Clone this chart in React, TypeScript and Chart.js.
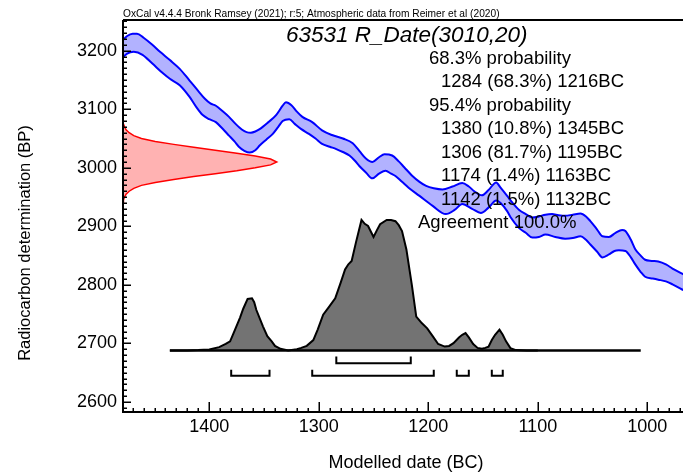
import React, { useEffect, useRef } from 'react';
import { Chart, registerables } from 'chart.js';

Chart.register(...registerables);

const FONT = '"Liberation Sans", Arial, Helvetica, sans-serif';

// ---- axis ticks ----
const xTickValues = [1400, 1300, 1200, 1100, 1000];
const yTickValues = [2600, 2700, 2800, 2900, 3000, 3100, 3200];

// ---- texts ----
const headerText = 'OxCal v4.4.4 Bronk Ramsey (2021); r:5; Atmospheric data from Reimer et al (2020)';
const titleText = '63531 R_Date(3010,20)';
const summaryLines = [
  '68.3% probability',
  '1284 (68.3%) 1216BC',
  '95.4% probability',
  '1380 (10.8%) 1345BC',
  '1306 (81.7%) 1195BC',
  '1174 (1.4%) 1163BC',
  '1142 (1.5%) 1132BC',
  'Agreement 100.0%',
];
const summaryKinds = ['head', 'range', 'head', 'range', 'range', 'range', 'range', 'agree'];

// ---- calibration curve (IntCal20 band, upper and lower edges) ----
const upperYears = [1481, 1475, 1470, 1466, 1460, 1452, 1445, 1436, 1427, 1418, 1410, 1404, 1399, 1394, 1388, 1382, 1376, 1370, 1366, 1362, 1358, 1354, 1346, 1339, 1333, 1330, 1325, 1320, 1315, 1306, 1297, 1288, 1278, 1269, 1263, 1257, 1251, 1245, 1240, 1233, 1227, 1222, 1215, 1208, 1202, 1195, 1187, 1178, 1169, 1163, 1158, 1151, 1145, 1138, 1134, 1128, 1123, 1117, 1111, 1105, 1099, 1093, 1087, 1081, 1075, 1068, 1061, 1056, 1052, 1046, 1041, 1035, 1029, 1023, 1020, 1015, 1011, 1006, 1002, 996, 990, 983, 977, 966];
const upperBP = [3214, 3225, 3229, 3229, 3222, 3210, 3198, 3184, 3169, 3149, 3131, 3118, 3110, 3106, 3097, 3087, 3075, 3065, 3061, 3060, 3062, 3066, 3078, 3090, 3106, 3112, 3107, 3096, 3087, 3078, 3064, 3056, 3050, 3042, 3029, 3016, 3010, 3018, 3023, 3021, 3011, 3001, 2987, 2976, 2969, 2965, 2963, 2968, 2974, 2968, 2960, 2953, 2962, 2975, 2966, 2952, 2940, 2928, 2921, 2915, 2917, 2920, 2921, 2919, 2918, 2920, 2922, 2917, 2909, 2895, 2883, 2882, 2889, 2894, 2892, 2877, 2861, 2850, 2843, 2841, 2840, 2835, 2828, 2817];

const lowerYears = [1481, 1475, 1469, 1461, 1452, 1442, 1436, 1427, 1418, 1412, 1406, 1400, 1394, 1388, 1382, 1377, 1373, 1368, 1363, 1358, 1354, 1348, 1342, 1337, 1333, 1327, 1322, 1316, 1309, 1303, 1297, 1290, 1284, 1278, 1272, 1267, 1263, 1257, 1251, 1245, 1239, 1234, 1230, 1224, 1218, 1208, 1196, 1184, 1176, 1169, 1160, 1152, 1145, 1138, 1134, 1128, 1125, 1117, 1111, 1105, 1099, 1093, 1084, 1075, 1068, 1061, 1056, 1052, 1046, 1041, 1035, 1030, 1026, 1020, 1015, 1011, 1006, 1002, 995, 990, 983, 977, 966];
const lowerBP = [3185, 3195, 3198, 3193, 3178, 3161, 3152, 3141, 3121, 3104, 3090, 3083, 3078, 3067, 3055, 3045, 3036, 3029, 3026, 3030, 3038, 3048, 3058, 3070, 3080, 3083, 3075, 3066, 3058, 3050, 3041, 3036, 3032, 3027, 3021, 3012, 3003, 2992, 2982, 2990, 2995, 2990, 2986, 2976, 2966, 2952, 2935, 2921, 2928, 2938, 2930, 2923, 2932, 2944, 2940, 2926, 2916, 2897, 2889, 2881, 2882, 2886, 2882, 2879, 2880, 2883, 2877, 2869, 2857, 2847, 2852, 2858, 2859, 2858, 2847, 2835, 2822, 2814, 2811, 2809, 2806, 2801, 2790];

// ---- measured radiocarbon date (relative density at each BP value) ----
const dateBP = [2940, 2945, 2950, 2955, 2960, 2965, 2970, 2975, 2980, 2985, 2990, 2995, 3000, 3005, 3010, 3015, 3020, 3025, 3030, 3035, 3040, 3045, 3050, 3055, 3060, 3065, 3070, 3075, 3080];
const dateDensity = [0, 0.003, 0.01, 0.02, 0.04, 0.07, 0.12, 0.21, 0.33, 0.46, 0.6, 0.74, 0.86, 0.96, 1.0, 0.96, 0.86, 0.74, 0.6, 0.46, 0.33, 0.21, 0.12, 0.07, 0.04, 0.02, 0.01, 0.003, 0];

// ---- calibrated (modelled) date distribution, relative probability ----
const distYears = [1436, 1420, 1410, 1400, 1391, 1385, 1381, 1378, 1372, 1369, 1365, 1361, 1359, 1357, 1351, 1347, 1343, 1340, 1335, 1328, 1320, 1316, 1311, 1305, 1301, 1296, 1291, 1285, 1280, 1276, 1273, 1270, 1266, 1261, 1258, 1255, 1250, 1247, 1244, 1238, 1234, 1230, 1227, 1224, 1220, 1215, 1211, 1206, 1201, 1196, 1191, 1185, 1181, 1177, 1172, 1169, 1166, 1163, 1159, 1155, 1151, 1148, 1145, 1142, 1139, 1135, 1132, 1129, 1125, 1120, 1110, 1100];
const distProb = [0, 0.001, 0.003, 0.008, 0.026, 0.05, 0.07, 0.13, 0.25, 0.32, 0.395, 0.4, 0.37, 0.31, 0.185, 0.11, 0.07, 0.035, 0.013, 0, 0.01, 0.02, 0.036, 0.08, 0.16, 0.274, 0.33, 0.4, 0.52, 0.62, 0.66, 0.685, 0.83, 1.0, 0.97, 0.954, 0.87, 0.92, 0.967, 1.0, 1.0, 0.99, 0.96, 0.915, 0.774, 0.5, 0.26, 0.21, 0.17, 0.11, 0.05, 0.03, 0.035, 0.056, 0.1, 0.12, 0.133, 0.1, 0.05, 0.02, 0.013, 0.02, 0.03, 0.08, 0.12, 0.16, 0.12, 0.07, 0.018, 0.003, 0, 0];
const baselineYears = [1436, 1006];

// ---- probability ranges ----
const ranges68 = [[1284, 1216]];
const ranges95 = [[1380, 1345], [1306, 1195], [1174, 1163], [1142, 1132]];

// ---- layout (axis ranges and plotting placement) ----
const X_MIN = 967.4;
const X_MAX = 1478.8;
const Y_MIN = 2583;
const Y_MAX = 3252.4;
const DATE_WIDTH_YEARS = 140.4;
const DIST_BASE = 2688;
const DIST_HEIGHT = 223;
const BR68 = { line: 2666.3, top: 2677.6 };
const BR95 = { line: 2645, top: 2655 };

function bracketPoints(ranges: number[][], lv: { line: number; top: number }) {
  const pts: any[] = [];
  ranges.forEach(([a, b]) => {
    pts.push({ x: a, y: lv.top }, { x: a, y: lv.line }, { x: b, y: lv.line }, { x: b, y: lv.top }, { x: (a + b) / 2, y: null });
  });
  return pts;
}

const framePlugin = {
  id: 'oxcalFrame',
  afterDraw(chart: any) {
    const { ctx, chartArea: a, scales } = chart;
    const x = scales.x;
    const y = scales.y;
    ctx.save();
    ctx.strokeStyle = '#000';
    ctx.lineWidth = 2;
    ctx.beginPath();
    ctx.moveTo(a.left, a.top);
    ctx.lineTo(a.left, a.bottom);
    ctx.lineTo(a.right, a.bottom);
    ctx.moveTo(a.left, a.top);
    ctx.lineTo(a.right, a.top);
    ctx.stroke();

    ctx.lineWidth = 1.5;
    ctx.beginPath();
    for (let v = Math.ceil(Y_MIN / 10) * 10; v < Y_MAX; v += 10) {
      const py = Math.round(y.getPixelForValue(v)) + 0.25;
      const len = v % 100 === 0 ? 8 : 4;
      ctx.moveTo(a.left, py);
      ctx.lineTo(a.left + len, py);
    }
    for (let v = Math.ceil(X_MIN / 10) * 10; v < X_MAX; v += 10) {
      const px = Math.round(x.getPixelForValue(v)) + 0.25;
      const len = v % 100 === 0 ? 10 : 4;
      ctx.moveTo(px, a.bottom);
      ctx.lineTo(px, a.bottom - len);
    }
    ctx.stroke();

    ctx.fillStyle = '#000';
    ctx.textBaseline = 'middle';
    ctx.textAlign = 'left';
    ctx.font = `10.2px ${FONT}`;
    ctx.fillText(headerText, 123, 14);

    ctx.font = `italic 22.5px ${FONT}`;
    ctx.fillText(titleText, 286, 36);

    ctx.font = `18.5px ${FONT}`;
    summaryLines.forEach((t, i) => {
      const k = summaryKinds[i];
      const px = k === 'head' ? 429 : k === 'range' ? 441 : 418;
      ctx.fillText(t, px, 58.5 + i * 23.5);
    });

    ctx.font = `18px ${FONT}`;
    ctx.textAlign = 'center';
    ctx.fillText('Modelled date (BC)', (a.left + a.right) / 2 + 3, 463);

    ctx.translate(25, 243);
    ctx.rotate(-Math.PI / 2);
    ctx.font = `16.5px ${FONT}`;
    ctx.fillText('Radiocarbon determination (BP)', 0, 0);
    ctx.restore();
  },
};

export default function App() {
  const ref = useRef<HTMLCanvasElement>(null);

  useEffect(() => {
    if (!ref.current) return;

    const upper = upperYears.map((yr, i) => ({ x: yr, y: upperBP[i] }));
    const lower = lowerYears.map((yr, i) => ({ x: yr, y: lowerBP[i] }));
    const datePts = dateBP.map((bp, i) => ({ x: X_MAX - dateDensity[i] * DATE_WIDTH_YEARS, y: bp }));
    const dist = distYears.map((yr, i) => ({ x: yr, y: DIST_BASE + distProb[i] * DIST_HEIGHT }));
    const baseline = baselineYears.map((yr) => ({ x: yr, y: DIST_BASE }));

    const chart = new Chart(ref.current, {
      type: 'line',
      data: {
        datasets: [
          {
            data: bracketPoints(ranges68, BR68).concat(bracketPoints(ranges95, BR95)),
            borderColor: '#000',
            borderWidth: 2,
            fill: false,
            spanGaps: false,
          } as any,
          {
            data: baseline,
            borderColor: '#000',
            borderWidth: 2.5,
            fill: false,
          },
          {
            data: dist,
            borderColor: '#000',
            borderWidth: 2,
            backgroundColor: '#737373',
            fill: { value: DIST_BASE },
          } as any,
          {
            data: datePts,
            borderColor: '#ff0000',
            borderWidth: 1.5,
            backgroundColor: 'rgba(255,0,0,0.3)',
            fill: 'shape',
          } as any,
          {
            data: upper,
            borderColor: '#0000ff',
            borderWidth: 2,
            fill: false,
            cubicInterpolationMode: 'monotone',
          } as any,
          {
            data: lower,
            borderColor: '#0000ff',
            borderWidth: 2,
            backgroundColor: 'rgba(0,0,255,0.3)',
            fill: '-1',
            cubicInterpolationMode: 'monotone',
          } as any,
        ],
      },
      options: {
        animation: false,
        responsive: false,
        events: [],
        layout: { padding: { top: 20, left: 0, right: 0, bottom: 0 } },
        elements: { point: { radius: 0 }, line: { tension: 0 } },
        plugins: {
          legend: { display: false },
          tooltip: { enabled: false },
          title: { display: false },
        },
        scales: {
          x: {
            type: 'linear',
            reverse: true,
            min: X_MIN,
            max: X_MAX,
            afterFit: (s: any) => {
              s.height = 62;
            },
            afterBuildTicks: (s: any) => {
              s.ticks = xTickValues.map((v) => ({ value: v }));
            },
            grid: { display: false, drawTicks: false },
            border: { display: false },
            ticks: {
              font: { family: FONT, size: 18 },
              color: '#000',
              padding: 4,
              maxRotation: 0,
              autoSkip: false,
              callback: (v: any) => String(v),
            },
          },
          y: {
            type: 'linear',
            min: Y_MIN,
            max: Y_MAX,
            afterFit: (s: any) => {
              s.width = 123;
            },
            afterBuildTicks: (s: any) => {
              s.ticks = yTickValues.map((v) => ({ value: v }));
            },
            grid: { display: false, drawTicks: false },
            border: { display: false },
            ticks: {
              font: { family: FONT, size: 18 },
              color: '#000',
              padding: 6,
              autoSkip: false,
              callback: (v: any) => String(v),
            },
          },
        },
      } as any,
      plugins: [framePlugin],
    });

    return () => chart.destroy();
  }, []);

  return (
    <div style={{ position: 'fixed', left: 0, top: 0, width: 683, height: 474, background: '#fff' }}>
      <canvas ref={ref} width={683} height={474} style={{ display: 'block', width: 683, height: 474 }} />
    </div>
  );
}
